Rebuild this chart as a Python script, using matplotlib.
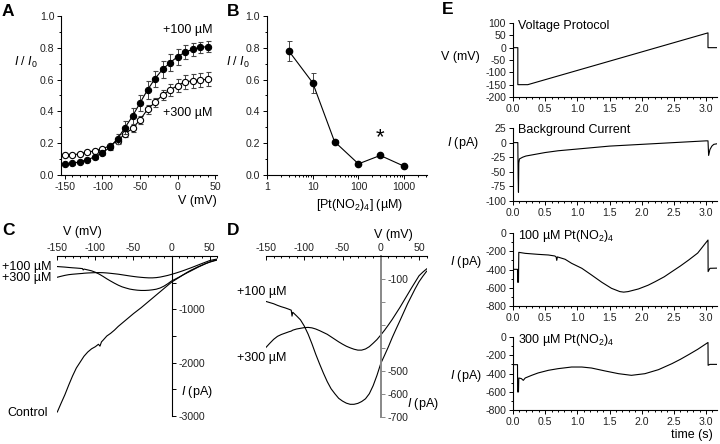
import numpy as np
import matplotlib
matplotlib.use('Agg')
import matplotlib.pyplot as plt
from matplotlib.ticker import MultipleLocator, NullFormatter, LogLocator, FormatStrFormatter

plt.rcParams['font.family'] = ['Liberation Sans', 'DejaVu Sans']
plt.rcParams['mathtext.fontset'] = 'custom'
plt.rcParams['mathtext.rm'] = 'Liberation Sans'
plt.rcParams['mathtext.it'] = 'Liberation Sans:italic'
plt.rcParams['mathtext.bf'] = 'Liberation Sans:bold'
plt.rcParams['axes.unicode_minus'] = False

# ---------------- data ----------------
# Panel A: I/I0 vs V
A_v = [-150, -140, -130, -120, -110, -100, -90, -80, -70, -60, -50, -40, -30, -20, -10, 0, 10, 20, 30, 40]
A_100 = [0.069, 0.073, 0.084, 0.096, 0.115, 0.14, 0.175, 0.228, 0.298, 0.37, 0.453, 0.535, 0.606, 0.664, 0.706, 0.744, 0.772, 0.79, 0.803, 0.807]
A_100_err = [0.008, 0.008, 0.01, 0.01, 0.012, 0.015, 0.02, 0.03, 0.04, 0.05, 0.05, 0.055, 0.05, 0.055, 0.055, 0.05, 0.045, 0.04, 0.035, 0.035]
A_300 = [0.126, 0.126, 0.134, 0.143, 0.153, 0.164, 0.185, 0.216, 0.258, 0.294, 0.346, 0.413, 0.457, 0.503, 0.535, 0.562, 0.587, 0.591, 0.597, 0.602]
A_300_err = [0.008, 0.008, 0.008, 0.008, 0.01, 0.01, 0.012, 0.015, 0.02, 0.022, 0.025, 0.028, 0.03, 0.032, 0.035, 0.04, 0.045, 0.045, 0.045, 0.045]

# Panel B: dose response
B_conc = [3, 10, 30, 100, 300, 1000]
B_val = [0.78, 0.58, 0.21, 0.07, 0.123, 0.055]
B_err = [0.06, 0.063, 0.01, 0.006, 0.01, 0.006]
B_xticks = [1, 10, 100, 1000]

# Panels C/D: I-V relations (mV, pA)
IV_v = [-150, -145, -140, -135, -130, -125, -120, -117, -116, -115, -110, -105, -100, -95, -90, -85, -80, -75, -70,
        -65, -60, -55, -50, -45, -40, -35, -30, -25, -20, -15, -10, -5, 0, 5, 10, 15, 20, 25, 30, 35, 40, 45,
        50, 55, 60]
IV_100 = [-198, -203, -208, -215, -221, -226, -232, -236, -262, -245, -261, -278, -305, -340, -382, -428, -470, -510, -547,
          -578, -600, -620, -632, -641, -646, -646, -642, -634, -622, -600, -565, -520, -468, -432, -395, -355, -318, -282, -245, -208, -175, -142,
          -112, -88, -66]
IV_300 = [-398, -380, -363, -350, -342, -336, -330, -327, -325, -323, -318, -315, -312, -311, -313, -318, -325, -333, -341,
          -352, -363, -374, -384, -393, -400, -406, -410, -410, -405, -395, -380, -364, -344, -323, -300, -276, -250, -224, -196, -168, -140, -113,
          -86, -70, -56]
ctl_v = [-150, -145, -140, -135, -130, -125, -120, -115, -110, -105, -100, -96, -94, -92, -90, -85, -80, -75, -70, -65, -60,
         -55, -50, -45, -40, -35, -30, -25, -20, -15, -10, -5, 0, 5, 10, 15, 20, 25, 30, 35, 40, 45, 50, 55, 60]
ctl_i = [-2925, -2760, -2600, -2420, -2250, -2100, -1990, -1880, -1800, -1740, -1700, -1655, -1690, -1610, -1580, -1500, -1450, -1390, -1320, -1260, -1200,
         -1140, -1080, -1025, -970, -910, -850, -790, -730, -670, -610, -550, -490, -445, -400, -355, -310, -270, -235, -200, -170, -140, -115, -95, -75]

# Panel E: time courses (s)
prot_t = [0, 0.075, 0.075, 0.23, 3.03, 3.03, 3.17]
prot_v = [0, 0, -150, -150, 60, 0, 0]
bg_t = [0, 0.075, 0.08, 0.085, 0.09, 0.1, 0.15, 0.2, 0.3, 0.5, 0.7, 1.0, 1.5, 2.0, 2.5, 3.0, 3.03, 3.04, 3.06, 3.09, 3.12, 3.17]
bg_i = [0, 0, -60, -85, -35, -28, -25, -23, -21, -17, -14, -11, -6, -3, 0, 3, 3, -22, -12, -6, -3, -2]
t100_t = [0, 0.07, 0.072, 0.085, 0.09, 0.19, 0.39, 0.55, 0.65, 0.67, 0.68, 0.69, 0.75, 0.81, 0.91, 1.07, 1.22, 1.38, 1.53, 1.66,
          1.72, 1.79, 1.95, 2.1, 2.21, 2.35, 2.47, 2.6, 2.73, 2.87, 3.03, 3.032, 3.06, 3.17]
t100_i = [-398, -398, -540, -540, -212, -223, -234, -241, -252, -262, -300, -262, -275, -288, -332, -387, -460, -540, -606, -642,
          -648, -642, -613, -572, -533, -480, -423, -362, -296, -220, -77, -423, -387, -385]
t300_t = [0, 0.07, 0.072, 0.085, 0.09, 0.13, 0.16, 0.19, 0.29, 0.39, 0.55, 0.70, 0.91, 1.07, 1.22, 1.43, 1.64, 1.84, 2.05,
          2.26, 2.47, 2.6, 2.73, 2.87, 3.03, 3.032, 3.06, 3.17]
t300_i = [-303, -303, -602, -602, -449, -456, -475, -449, -420, -394, -365, -347, -329, -329, -340, -372, -402, -420, -402,
          -358, -292, -245, -193, -135, -60, -310, -300, -300]

# ---------------- layout helpers ----------------
W, H = 720, 444
fig = plt.figure(figsize=(7.2, 4.44), dpi=100)
TS = 7.6
LS = 9
TC = '#222222'


def box(x0, y0, x1, y1):
    return [x0 / W, 1 - y1 / H, (x1 - x0) / W, (y1 - y0) / H]


def ftext(x, y, s, **kw):
    kw.setdefault('fontsize', LS)
    kw.setdefault('ha', 'center')
    kw.setdefault('va', 'center')
    fig.text(x / W, 1 - y / H, s, **kw)


def style(ax):
    for s in ax.spines.values():
        s.set_linewidth(0.8)
    ax.tick_params(which='both', labelsize=TS, labelcolor=TC, width=0.7, pad=2)
    ax.tick_params(which='major', length=3)
    ax.tick_params(which='minor', length=1.6)


# ---------------- Panel A ----------------
axA = fig.add_axes(box(61.25, 16, 216.5, 175))
style(axA)
axA.spines['top'].set_visible(False)
axA.spines['right'].set_visible(False)
axA.errorbar(A_v, A_300, yerr=A_300_err, fmt='-o', color='black', mfc='white', mec='black', ms=4.5, mew=0.8,
             lw=0.8, ecolor='#444444', elinewidth=0.7, capsize=1.8, capthick=0.7, zorder=2)
axA.errorbar(A_v, A_100, yerr=A_100_err, fmt='-o', color='black', mfc='black', mec='black', ms=4.5, mew=0.8,
             lw=0.8, ecolor='#444444', elinewidth=0.7, capsize=1.8, capthick=0.7, zorder=3)
axA.set_xlim(-155, 52)
axA.set_ylim(0, 1.0)
axA.set_xticks([-150, -100, -50, 0, 50])
axA.xaxis.set_minor_locator(MultipleLocator(10))
axA.set_yticks(np.arange(0, 1.01, 0.2))
axA.yaxis.set_major_formatter(FormatStrFormatter('%.1f'))
axA.yaxis.set_minor_locator(MultipleLocator(0.1))

# ---------------- Panel B ----------------
axB = fig.add_axes(box(267, 16, 427, 175))
style(axB)
axB.spines['top'].set_visible(False)
axB.spines['right'].set_visible(False)
axB.set_xscale('log')
axB.errorbar(B_conc, B_val, yerr=B_err, fmt='-o', color='black', mfc='black', mec='black', ms=4.5,
             lw=0.8, ecolor='#444444', elinewidth=0.7, capsize=1.8, capthick=0.7)
axB.set_xlim(1, 3160)
axB.set_ylim(0, 1.0)
axB.set_xticks(B_xticks)
axB.set_xticklabels([str(v) for v in B_xticks])
axB.xaxis.set_minor_locator(LogLocator(base=10, subs=np.arange(2, 10)))
axB.xaxis.set_minor_formatter(NullFormatter())
axB.set_yticks(np.arange(0, 1.01, 0.2))
axB.yaxis.set_major_formatter(FormatStrFormatter('%.1f'))
axB.yaxis.set_minor_locator(MultipleLocator(0.1))
axB.text(300, 0.235, '*', ha='center', va='center', fontsize=16)


# ---------------- Panels C / D ----------------
def iv_axes(rect, ylim, ymajor, ylabels, ycolor):
    ax = fig.add_axes(rect)
    style(ax)
    ax.set_xlim(-150, 60)
    ax.set_ylim(*ylim)
    ax.spines['left'].set_visible(False)
    ax.spines['bottom'].set_visible(False)
    ax.spines['right'].set_position(('data', 0))
    ax.spines['right'].set_color(ycolor)
    ax.xaxis.set_ticks_position('top')
    ax.yaxis.set_ticks_position('right')
    ax.set_xticks([-150, -100, -50, 0, 50])
    ax.xaxis.set_minor_locator(MultipleLocator(10))
    ax.tick_params(axis='x', which='both', direction='in')
    ax.tick_params(axis='x', which='major', pad=2)
    ax.tick_params(axis='y', which='both', direction='out', colors=ycolor, labelcolor=TC)
    ax.set_yticks(ymajor)
    ax.set_yticklabels(ylabels)
    return ax


axC = iv_axes(box(57.3, 256, 217.3, 416), (-3000, 0), [-3000, -2500, -2000, -1500, -1000, -500],
              ['-3000', '', '-2000', '', '-1000', ''], 'black')
axC.plot(IV_v, IV_100, color='black', lw=0.8)
axC.plot(IV_v, IV_300, color='black', lw=0.8)
axC.plot(ctl_v, ctl_i, color='black', lw=0.8)

axD = iv_axes(box(266, 256, 426.7, 416.7), (-700, 0), [-700, -600, -500, -400, -300, -200, -100],
              ['-700', '-600', '-500', '', '', '', '-100'], '#888888')
axD.spines['right'].set_linewidth(1.4)
axD.plot(IV_v, IV_100, color='black', lw=0.8)
axD.plot(IV_v, IV_300, color='black', lw=0.8)


# ---------------- Panel E ----------------
def e_axes(y0, y1, ylim, yticks, yminor=None):
    ax = fig.add_axes(box(513, y0, 717, y1))
    style(ax)
    ax.spines['top'].set_visible(False)
    ax.spines['right'].set_visible(False)
    ax.set_xlim(0, 3.17)
    ax.set_ylim(*ylim)
    ax.set_xticks(np.arange(0, 3.01, 0.5))
    ax.xaxis.set_major_formatter(FormatStrFormatter('%.1f'))
    ax.xaxis.set_minor_locator(MultipleLocator(0.1))
    ax.set_yticks(yticks)
    if yminor:
        ax.yaxis.set_minor_locator(MultipleLocator(yminor))
    return ax


axE1 = e_axes(23, 97, (-200, 100), np.arange(-200, 101, 50))
axE1.plot(prot_t, prot_v, color='black', lw=0.8)
axE2 = e_axes(128, 201, (-100, 25), np.arange(-100, 26, 25))
axE2.plot(bg_t, bg_i, color='black', lw=0.8)
axE3 = e_axes(233, 306, (-800, 0), np.arange(-800, 1, 200), 100)
axE3.plot(t100_t, t100_i, color='black', lw=0.8)
axE4 = e_axes(337, 410, (-800, 0), np.arange(-800, 1, 200), 100)
axE4.plot(t300_t, t300_i, color='black', lw=0.8)

# ---------------- texts ----------------
for lab, x, y in [('A', 2, 11), ('B', 227, 11), ('C', 2, 230), ('D', 227, 230), ('E', 442, 10)]:
    ftext(x, y, lab, ha='left', fontsize=12.5, fontweight='bold')

ftext(26, 62, r'$I$ / $I_\mathrm{0}$')
ftext(238, 62, r'$I$ / $I_\mathrm{0}$')
ftext(197, 201, 'V (mV)')
ftext(360, 205, r'[Pt(NO$_\mathrm{2}$)$_\mathrm{4}$] (µM)')
ftext(188, 30, '+100 µM')
ftext(188, 113, '+300 µM')

ftext(82, 232, 'V (mV)')
ftext(27, 267, '+100 µM')
ftext(27, 278, '+300 µM')
ftext(28, 413, 'Control')
ftext(197, 392, r'$I$ (pA)')

ftext(393, 235, 'V (mV)')
ftext(262, 292, '+100 µM')
ftext(262, 358, '+300 µM')
ftext(423, 404, r'$I$ (pA)')

ftext(460, 57, 'V (mV)')
ftext(463, 143, r'$I$ (pA)')
ftext(466, 262, r'$I$ (pA)')
ftext(466, 376, r'$I$ (pA)')
ftext(518, 26, 'Voltage Protocol', ha='left')
ftext(518, 130, 'Background Current', ha='left')
ftext(518, 236, r'100 µM Pt(NO$_\mathrm{2}$)$_\mathrm{4}$', ha='left')
ftext(518, 340, r'300 µM Pt(NO$_\mathrm{2}$)$_\mathrm{4}$', ha='left')
ftext(692, 435, 'time (s)')

fig.savefig('out.png', dpi=100)
